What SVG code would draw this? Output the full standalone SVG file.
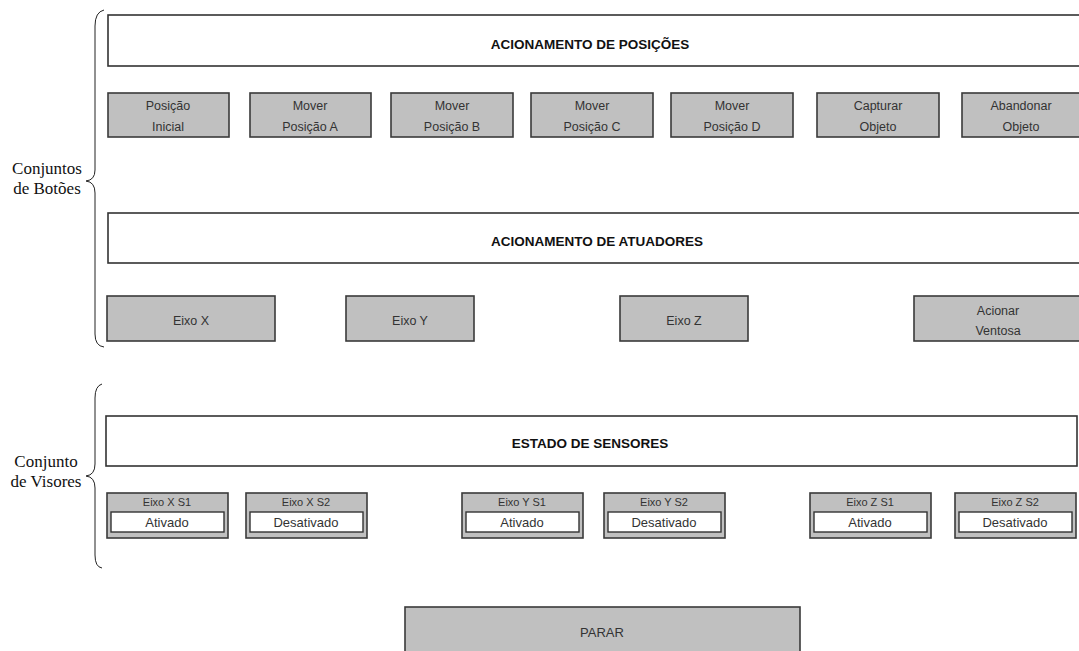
<svg xmlns="http://www.w3.org/2000/svg" width="1079" height="651" viewBox="0 0 1079 651">
<style>
.panel{fill:#fff;stroke:#333;stroke-width:1.6}
.btn{fill:#c0c0c0;stroke:#3a3a3a;stroke-width:1.6}
.bt{font-family:"Liberation Sans",Arial,sans-serif;font-size:12.5px;fill:#333;text-anchor:middle}
.pt{font-family:"Liberation Sans",Arial,sans-serif;font-size:13.5px;font-weight:bold;fill:#111;text-anchor:middle}
.st{font-family:"Liberation Sans",Arial,sans-serif;font-size:11px;fill:#333;text-anchor:middle}
.vt{font-family:"Liberation Sans",Arial,sans-serif;font-size:13px;fill:#333;text-anchor:middle}
.fv{fill:#fff;stroke:#333;stroke-width:1.4}
.lb{font-family:"Liberation Serif","Times New Roman",serif;font-size:17px;fill:#111;text-anchor:middle}
.br{fill:none;stroke:#222;stroke-width:1}
</style>
<rect width="1079" height="651" fill="#fff"/>
<g id="braces">
<path class="br" d="M104 10 Q95 12 95 26 L95 170 Q95 180 86 181 Q95 182 95 193 L95 334 Q95 346 104 347"/>
<path class="br" d="M102 384 Q95 386 95 398 L95 464 Q95 475 86 476 Q95 477 95 488 L95 555 Q95 567 102 568"/>
</g>
<g id="label-botoes"><text class="lb" x="47" y="174">Conjuntos</text><text class="lb" x="47" y="194">de Botões</text></g>
<g id="label-visores"><text class="lb" x="46" y="467">Conjunto</text><text class="lb" x="46" y="487">de Visores</text></g>

<g id="panel-posicoes"><rect class="panel" x="108" y="15" width="980" height="51"/><text class="pt" x="590" y="49">ACIONAMENTO DE POSIÇÕES</text></g>
<g id="btn-inicial"><rect class="btn" x="108" y="93" width="121" height="44"/><text class="bt" x="168" y="110">Posição</text><text class="bt" x="168" y="131">Inicial</text></g>
<g id="btn-a"><rect class="btn" x="250" y="93" width="121" height="44"/><text class="bt" x="310" y="110">Mover</text><text class="bt" x="310" y="131">Posição A</text></g>
<g id="btn-b"><rect class="btn" x="391" y="93" width="122" height="44"/><text class="bt" x="452" y="110">Mover</text><text class="bt" x="452" y="131">Posição B</text></g>
<g id="btn-c"><rect class="btn" x="531" y="93" width="122" height="44"/><text class="bt" x="592" y="110">Mover</text><text class="bt" x="592" y="131">Posição C</text></g>
<g id="btn-d"><rect class="btn" x="671" y="93" width="122" height="44"/><text class="bt" x="732" y="110">Mover</text><text class="bt" x="732" y="131">Posição D</text></g>
<g id="btn-capturar"><rect class="btn" x="817" y="93" width="122" height="44"/><text class="bt" x="878" y="110">Capturar</text><text class="bt" x="878" y="131">Objeto</text></g>
<g id="btn-abandonar"><rect class="btn" x="962" y="93" width="122" height="44"/><text class="bt" x="1021" y="110">Abandonar</text><text class="bt" x="1021" y="131">Objeto</text></g>

<g id="panel-atuadores"><rect class="panel" x="108" y="213" width="980" height="50"/><text class="pt" x="597" y="246">ACIONAMENTO DE ATUADORES</text></g>
<g id="btn-x"><rect class="btn" x="107" y="296" width="168" height="45"/><text class="bt" x="191" y="325">Eixo X</text></g>
<g id="btn-y"><rect class="btn" x="346" y="296" width="128" height="45"/><text class="bt" x="410" y="325">Eixo Y</text></g>
<g id="btn-z"><rect class="btn" x="620" y="296" width="128" height="45"/><text class="bt" x="684" y="325">Eixo Z</text></g>
<g id="btn-ventosa"><rect class="btn" x="914" y="296" width="170" height="45"/><text class="bt" x="998" y="315">Acionar</text><text class="bt" x="998" y="335">Ventosa</text></g>

<g id="panel-sensores"><rect class="panel" x="106" y="416" width="971" height="50"/><text class="pt" x="590" y="448">ESTADO DE SENSORES</text></g>

<g id="s-x1"><rect class="btn" x="107" y="493" width="121" height="45"/><text class="st" x="167" y="506">Eixo X S1</text><rect class="fv" x="111" y="512" width="113" height="20"/><text class="vt" x="167" y="527">Ativado</text></g>
<g id="s-x2"><rect class="btn" x="246" y="493" width="121" height="45"/><text class="st" x="306" y="506">Eixo X S2</text><rect class="fv" x="250" y="512" width="113" height="20"/><text class="vt" x="306" y="527">Desativado</text></g>
<g id="s-y1"><rect class="btn" x="462" y="493" width="121" height="45"/><text class="st" x="522" y="506">Eixo Y S1</text><rect class="fv" x="466" y="512" width="113" height="20"/><text class="vt" x="522" y="527">Ativado</text></g>
<g id="s-y2"><rect class="btn" x="604" y="493" width="121" height="45"/><text class="st" x="664" y="506">Eixo Y S2</text><rect class="fv" x="608" y="512" width="113" height="20"/><text class="vt" x="664" y="527">Desativado</text></g>
<g id="s-z1"><rect class="btn" x="810" y="493" width="121" height="45"/><text class="st" x="870" y="506">Eixo Z S1</text><rect class="fv" x="814" y="512" width="113" height="20"/><text class="vt" x="870" y="527">Ativado</text></g>
<g id="s-z2"><rect class="btn" x="955" y="493" width="121" height="45"/><text class="st" x="1015" y="506">Eixo Z S2</text><rect class="fv" x="959" y="512" width="113" height="20"/><text class="vt" x="1015" y="527">Desativado</text></g>

<g id="btn-parar"><rect class="btn" x="405" y="607" width="395" height="60"/><text class="bt" x="602" y="637" style="font-size:13px">PARAR</text></g>
<g id="connectors"/>
</svg>
